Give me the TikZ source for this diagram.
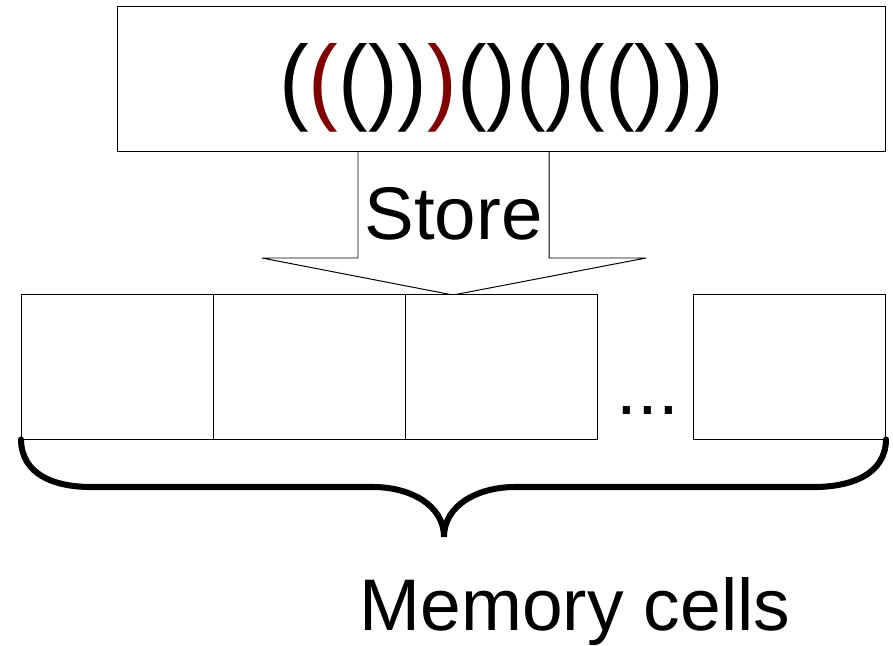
\documentclass[tikz,border=0pt]{standalone}
\usepackage{fontspec}
\setmainfont{Liberation Sans}
\usetikzlibrary{arrows}
\definecolor{darkred}{RGB}{128,0,0}

\begin{document}
\begin{tikzpicture}[x=0.025cm,y=-0.025cm,line width=0.7pt,
  cell node/.style={rectangle,draw,fill=white,minimum width=4.8cm,minimum height=3.6cm,inner sep=0pt},
  big text/.style={inner sep=0pt,anchor=base,font=\fontsize{53}{60}\selectfont}]
  \useasboundingbox (0,0) rectangle (893,645);

  \draw[fill=white] (358,151) -- (358,258) -- (262,258) -- (453,295)
    -- (646,258) -- (549,258) -- (549,151);
  \node[big text] (store) at (453.5,239) {Store};

  \node[cell node,minimum width=19.2cm] (seq) at (501.5,79) {};
  \node[big text,font=\fontsize{67.7}{80}\selectfont] (parens) at (501.5,112)
    {\scalebox{0.935}[1]{(\textcolor{darkred}{(}())\textcolor{darkred}{)}()()(()))}};

  \node[cell node] (c1) at (117.5,367) {};
  \node[cell node] (c2) at (309.5,367) {};
  \node[cell node] (c3) at (501.5,367) {};
  \node[cell node] (c4) at (789.5,367) {};
  \node[big text] (dots) at (648,414) {...};

  \coordinate (tip) at (444,537);
  \draw[line width=4.3pt,line cap=round] (c1.south west)
    .. controls (21.5,475) and (55,487) .. (91,487) -- (373,487)
    .. controls (410,487) and (444,505) .. (tip)
    .. controls (444,505) and (478,487) .. (515,487) -- (814,487)
    .. controls (850,487) and (885.5,475) .. (c4.south east);

  \node[big text,font=\fontsize{52}{60}\selectfont] (label) at (575,630) {Memory cells};

\end{tikzpicture}
\end{document}
